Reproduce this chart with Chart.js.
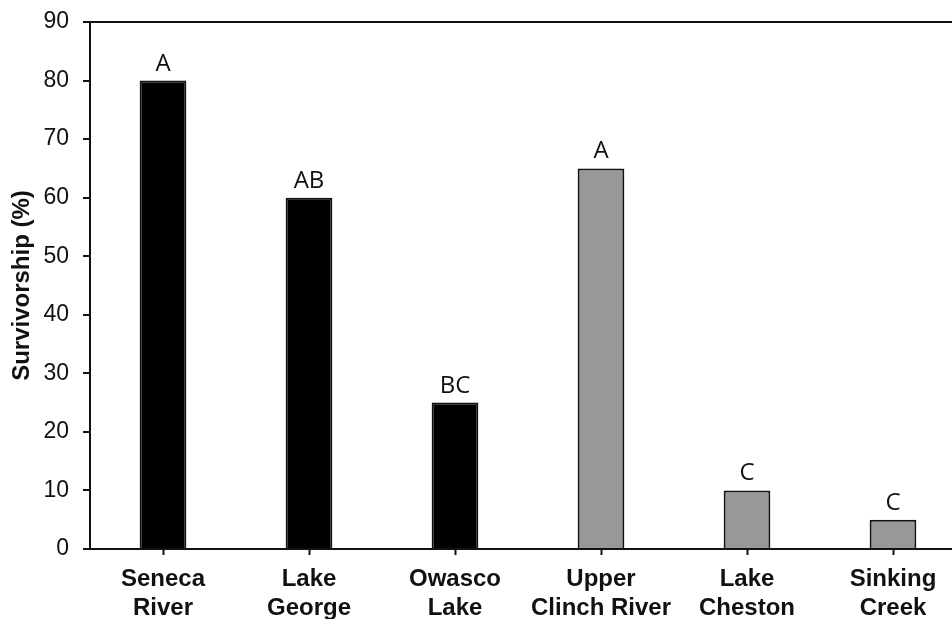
<!DOCTYPE html>
<html>
<head>
<meta charset="utf-8">
<script src="https://cdn.jsdelivr.net/npm/chart.js@4/dist/chart.umd.min.js"></script>
<style>
  html, body { margin: 0; padding: 0; background: #fff; overflow: hidden; }
  #wrap { width: 952px; height: 619px; overflow: hidden; }
  canvas { display: block; }
</style>
</head>
<body>
<div id="wrap"><canvas id="c" width="966" height="619"></canvas></div>
<script>
// Survival of each population, with significance groups
const sites = [
  ['Seneca', 'River'],
  ['Lake', 'George'],
  ['Owasco', 'Lake'],
  ['Upper', 'Clinch River'],
  ['Lake', 'Cheston'],
  ['Sinking', 'Creek']
];
const survivorship = [80, 60, 25, 65, 10, 5];
const groupLetters = ['A', 'AB', 'BC', 'A', 'C', 'C'];
const yTicks = [0, 10, 20, 30, 40, 50, 60, 70, 80, 90];

// first three sites drawn in black, the rest in grey
const barFill = ['#000000', '#000000', '#000000', '#989898', '#989898', '#989898'];

const letterPlugin = {
  id: 'groupLetters',
  afterDatasetsDraw(chart) {
    const ctx = chart.ctx;
    const meta = chart.getDatasetMeta(0);
    ctx.save();
    ctx.font = '24px "Open Sans", sans-serif';
    ctx.fillStyle = '#111';
    ctx.textAlign = 'center';
    ctx.textBaseline = 'alphabetic';
    meta.data.forEach((bar, i) => {
      ctx.fillText(groupLetters[i], bar.x, bar.y - 10);
    });
    ctx.restore();
  }
};

new Chart(document.getElementById('c'), {
  type: 'bar',
  data: {
    labels: sites,
    datasets: [{
      data: survivorship,
      backgroundColor: barFill,
      borderColor: '#111111',
      borderWidth: 2,
      borderSkipped: 'bottom',
      barPercentage: 0.32,
      categoryPercentage: 1.0
    }]
  },
  options: {
    responsive: false,
    animation: false,
    devicePixelRatio: 1,
    layout: { padding: { top: 22, right: 0, left: 0, bottom: 0 } },
    plugins: {
      legend: { display: false },
      tooltip: { enabled: false }
    },
    scales: {
      x: {
        offset: true,
        border: { display: true, color: '#111', width: 2 },
        grid: {
          offset: false,
          drawOnChartArea: false,
          drawTicks: true,
          tickLength: 6,
          tickWidth: 2,
          tickColor: '#111'
        },
        ticks: {
          color: '#111',
          padding: 10,
          maxRotation: 0,
          autoSkip: false,
          font: { family: '"Liberation Sans", Arial, sans-serif', size: 24, weight: 'bold', lineHeight: 1.2 }
        },
        afterFit(scale) {
          scale.height = 70;
          scale.paddingLeft = 0;
          scale.paddingRight = 0;
        }
      },
      y: {
        min: 0,
        max: 90,
        border: { display: true, color: '#111', width: 2 },
        grid: {
          drawOnChartArea: true,
          color: (c) => (c.tick && c.tick.value === 90 ? '#111' : 'rgba(0,0,0,0)'),
          lineWidth: 2,
          drawTicks: true,
          tickLength: 7,
          tickWidth: 2,
          tickColor: '#111'
        },
        afterBuildTicks(scale) { scale.ticks = yTicks.map(v => ({ value: v })); },
        ticks: {
          color: '#111',
          padding: 14,
          font: { family: '"Liberation Sans", Arial, sans-serif', size: 23 }
        },
        title: {
          display: true,
          text: 'Survivorship (%)',
          color: '#111',
          padding: { top: 8, bottom: 0 },
          font: { family: '"Liberation Sans", Arial, sans-serif', size: 24, weight: 'bold' }
        },
        afterFit(scale) {
          scale.width = 90;
          scale.paddingTop = 0;
          scale.paddingBottom = 0;
        }
      }
    }
  },
  plugins: [letterPlugin]
});
</script>
</body>
</html>
